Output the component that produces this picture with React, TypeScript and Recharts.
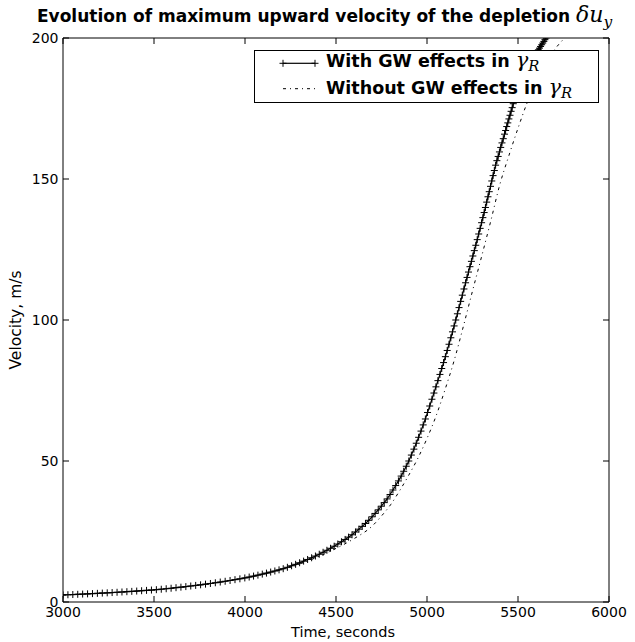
import React from 'react';
import { LineChart, Line, XAxis, YAxis } from 'recharts';

const withTimes = [
  3000,3027,3054,3081,3108,3135,3162,3189,3216,3243,3270,3297,3324,3351,3378,3405,3432,3459,3486,3513,
  3540,3567,3594,3621,3648,3675,3702,3729,3756,3783,3810,3837,3864,3891,3918,3945,3972,3999,
  4023,4047,4071,4095,4118,4141,4164,4187,4210,4233,
  4256,4278,4300,4322,4344,4366,4387,4408,4429,4450,
  4470,4490,4510,4530,4550,4569,4588,4607,4626,4644,
  4662,4680,4698,4715,4732,4749,4765,4781,4797,4813,
  4828,4843,4858,4872,4886,4900,4914,4928,4941,4954,
  4967,4979,4991,5003,5015,5027,5038,5049,5060,5071,
  5081,5091,5101,5111,5121,5131,5140,5149,5158,5167,
  5176,5185,5194,5203,5212,5220,5228,5236,5244,5252,
  5260,5268,5276,5284,5292,5300,5307,5314,5321,5328,
  5335,5342,5349,5356,5363,5370,5377,5384,5391,5398,
  5405,5412,5419,5426,5432,5438,5444,5450,5456,5462,
  5468,5474,5480,5486,5492,5498,5504,5510,5516,5522,
  5528,5534,5540,5546,5552,5558,5564,5570,5576,5582,
  5588,5594,5600,5606,5612,5618,5624,5630,5636,5642,
  5648,5654,5660,5666,5672,
];
const withGW = [
  2.50,2.57,2.65,2.73,2.81,2.89,2.98,3.07,3.16,3.25,3.35,3.45,3.55,3.66,3.77,3.88,4.00,4.12,4.24,4.37,
  4.53,4.70,4.88,5.07,5.26,5.46,5.67,5.88,6.10,6.33,6.57,6.82,7.08,7.35,7.63,7.92,8.22,8.53,
  8.85,9.19,9.53,9.89,10.25,10.62,11.00,11.40,11.81,12.31,
  12.84,13.36,13.92,14.49,15.08,15.69,16.30,16.94,17.63,18.34,
  19.05,19.79,20.56,21.36,22.19,23.00,23.84,24.82,25.83,26.82,
  27.85,28.97,30.21,31.41,32.67,33.97,35.24,36.56,38.11,39.72,
  41.30,42.94,44.65,46.36,48.14,50.0,52.1,54.2,56.3,58.4,
  60.6,62.8,64.9,67.2,69.5,71.9,74.1,76.3,78.5,80.7,
  82.8,84.9,87.0,89.2,91.4,93.7,95.8,97.9,100.0,102.2,
  104.4,106.6,108.8,111.0,113.2,115.1,117.0,118.9,120.8,122.7,
  124.6,126.5,128.5,130.5,132.5,134.5,136.3,138.1,139.9,141.8,
  143.7,145.5,147.4,149.3,151.2,153.0,154.9,156.5,158.0,159.6,
  161.2,162.8,164.3,165.9,167.2,168.6,169.9,171.3,172.6,174.0,
  175.3,176.7,178.0,179.2,180.4,181.5,182.5,183.5,184.5,185.4,
  186.3,187.1,187.9,188.7,189.4,190.1,190.8,191.5,192.1,192.8,
  193.4,194.0,194.6,195.2,195.8,196.4,197.0,197.6,198.2,198.8,
  199.4,200.0,200.6,201.2,201.8,
];

const withoutTimes = [3000,3100,3200,3300,3400,3500,3600,3700,3800,3900,4000,4100,4200,4300,4400,4500,4600,4700,4750,4800,4850,4900,4950,5000,5050,5100,5150,5200,5250,5300,5350,5400,5450,5500,5550,5600,5650,5700,5750,5800];
const withoutGW = [2.5,2.8,3.1,3.45,3.85,4.3,4.9,5.6,6.4,7.4,8.5,9.9,11.5,13.5,16.0,19.0,22.5,27.0,30.5,34.5,39.5,45.0,51.0,58.0,66.0,75.5,85.8,97.8,110.3,122.5,135.0,148.0,158.3,168.0,177.0,184.5,190.8,195.8,199.6,203.0];

const xTicks = [3000,3500,4000,4500,5000,5500,6000];
const yTicks = [0,50,100,150,200];

const withData = withTimes.map((t, i) => ({ t, v: withGW[i] }));
const withoutData = withoutTimes.map((t, i) => ({ t, v: withoutGW[i] }));

const FONT = '"DejaVu Sans", sans-serif';
const MATH = '"DejaVu Serif", serif';

const Cross = (props: any) => {
  const { cx, cy, index } = props;
  if (cx == null || cy == null) return <g key={index} />;
  const s = 3.5;
  return (
    <path
      key={index}
      d={`M${cx - s},${cy}H${cx + s}M${cx},${cy - s}V${cy + s}`}
      stroke="#000"
      strokeWidth={1}
      fill="none"
    />
  );
};

const empty = () => '';

const Sub = ({ children }: { children: React.ReactNode }) => (
  <sub style={{ fontSize: '0.7em', verticalAlign: '-0.3em', lineHeight: 0 }}>{children}</sub>
);

const MathSpan = ({ children, size }: { children: React.ReactNode; size: string }) => (
  <span style={{ fontFamily: MATH, fontStyle: 'italic', fontWeight: 'normal', fontSize: size, lineHeight: 0 }}>{children}</span>
);

export default function App() {
  return (
    <div style={{ position: 'absolute', left: 0, top: 0, width: 635, height: 642, background: '#fff', fontFamily: FONT, color: '#000' }}>
      <LineChart width={635} height={642} margin={{ top: 37, right: 25, bottom: 10, left: 13 }}>
        <XAxis
          xAxisId="b"
          type="number"
          dataKey="t"
          domain={[3000, 6000]}
          ticks={xTicks}
          interval={0}
          allowDataOverflow
          tickSize={-6}
          tickMargin={11}
          height={30}
          stroke="#000"
          tick={{ fill: '#000', fontSize: 14, fontFamily: FONT }}
        />
        <XAxis
          xAxisId="t"
          orientation="top"
          type="number"
          dataKey="t"
          domain={[3000, 6000]}
          ticks={xTicks}
          interval={0}
          allowDataOverflow
          tickSize={-6}
          tickFormatter={empty}
          height={1}
          stroke="#000"
        />
        <YAxis
          yAxisId="l"
          type="number"
          domain={[0, 200]}
          ticks={yTicks}
          interval={0}
          allowDataOverflow
          tickSize={-6}
          tickMargin={10.5}
          width={50}
          stroke="#000"
          tick={{ fill: '#000', fontSize: 14, fontFamily: FONT }}
        />
        <YAxis
          yAxisId="r"
          orientation="right"
          type="number"
          domain={[0, 200]}
          ticks={yTicks}
          interval={0}
          allowDataOverflow
          tickSize={-6}
          tickFormatter={empty}
          width={1}
          stroke="#000"
        />
        <Line
          xAxisId="b"
          yAxisId="l"
          data={withoutData}
          dataKey="v"
          type="monotone"
          stroke="#000"
          strokeWidth={1}
          strokeDasharray="3 4 1 4"
          dot={false}
          activeDot={false}
          isAnimationActive={false}
        />
        <Line
          xAxisId="b"
          yAxisId="l"
          data={withData}
          dataKey="v"
          type="linear"
          stroke="#000"
          strokeWidth={1.2}
          dot={Cross}
          activeDot={false}
          isAnimationActive={false}
        />
      </LineChart>

      <div style={{ position: 'absolute', left: 37, top: 8, fontSize: 17, fontWeight: 'bold', lineHeight: 1, whiteSpace: 'nowrap' }}>
        Evolution of maximum upward velocity of the depletion{' '}
        <MathSpan size="1.3em">
          δu<Sub>y</Sub>
        </MathSpan>
      </div>

      <div style={{ position: 'absolute', left: 17, top: 320, transform: 'translate(-50%, -50%) rotate(-90deg)', fontSize: 15.5, lineHeight: 1, whiteSpace: 'nowrap' }}>
        Velocity, m/s
      </div>
      <div style={{ position: 'absolute', left: 343, top: 632, transform: 'translate(-50%, -50%)', fontSize: 14.5, lineHeight: 1, whiteSpace: 'nowrap' }}>
        Time, seconds
      </div>

      <div style={{ position: 'absolute', left: 254, top: 50, width: 345, height: 53, boxSizing: 'border-box', border: '1px solid #000', background: '#fff' }}>
        <svg width={343} height={51} style={{ position: 'absolute', left: 0, top: 0 }}>
          <line x1={28} y1={12.3} x2={60} y2={12.3} stroke="#000" strokeWidth={1.2} />
          <path d="M24.5,12.3H31.5M28,8.8V15.8M56.5,12.3H63.5M60,8.8V15.8" stroke="#000" strokeWidth={1} fill="none" />
          <line x1={28} y1={37.7} x2={60} y2={37.7} stroke="#000" strokeWidth={1} strokeDasharray="3 4 1 4" />
        </svg>
        <div style={{ position: 'absolute', left: 71, top: 1.5, fontSize: 17.5, fontWeight: 'bold', lineHeight: 1, whiteSpace: 'nowrap' }}>
          With GW effects in{' '}
          <MathSpan size="1.2em">
            γ<Sub>R</Sub>
          </MathSpan>
        </div>
        <div style={{ position: 'absolute', left: 71, top: 29.2, fontSize: 17.5, fontWeight: 'bold', lineHeight: 1, whiteSpace: 'nowrap' }}>
          Without GW effects in{' '}
          <MathSpan size="1.2em">
            γ<Sub>R</Sub>
          </MathSpan>
        </div>
      </div>
    </div>
  );
}
